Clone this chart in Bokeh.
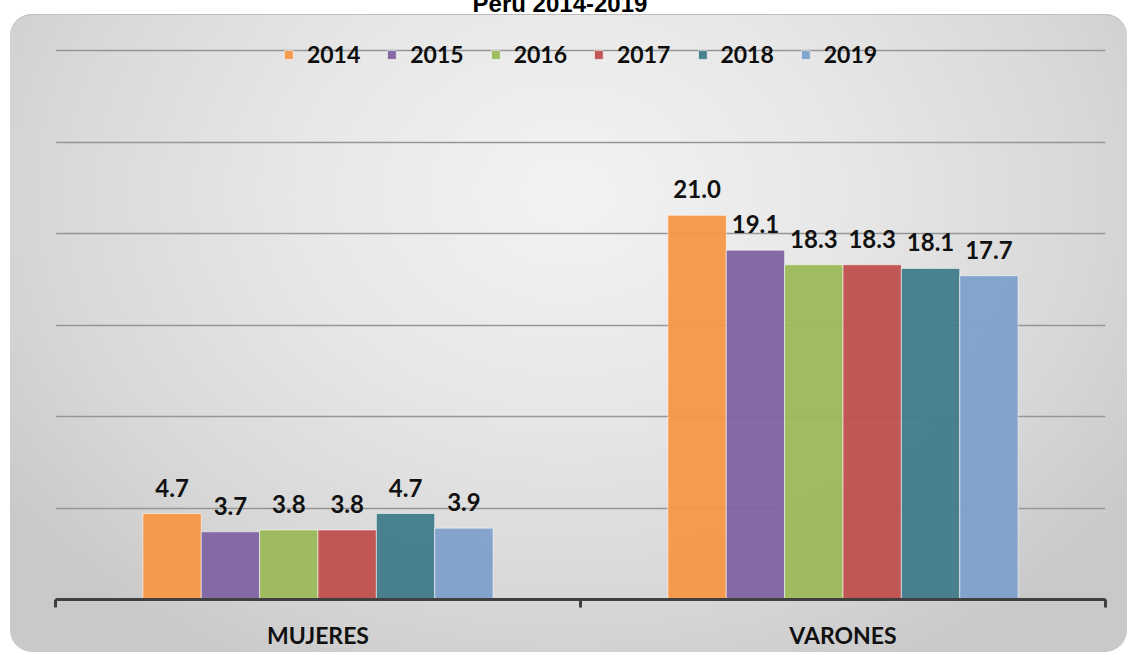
from bokeh.plotting import figure
from bokeh.models import (ColumnDataSource, FixedTicker, Legend, LegendItem,
                          Div, SingleIntervalTicker)
from bokeh.layouts import column
from bokeh.embed import file_html
from bokeh.resources import INLINE
from bokeh.core.properties import value

# ---- data ----
title = "Perú 2014-2019"
categories = ["MUJERES", "VARONES"]
years = ["2014", "2015", "2016", "2017", "2018", "2019"]
mujeres = [4.7, 3.7, 3.8, 3.8, 4.7, 3.9]
varones = [21.0, 19.1, 18.3, 18.3, 18.1, 17.7]
colors = ["#F79646", "#8064A2", "#9BBB59", "#C0504D", "#417B89", "#7FA0CB"]

FONT = "Lato"
n_years = len(years)
group_width = 0.667
bar_w = group_width / n_years
cat_centers = [i + 0.5 for i in range(len(categories))]

p = figure(width=1117, height=638,
           x_range=(0, len(categories)), y_range=(0, 30.56),
           output_backend="svg", toolbar_location=None,
           min_border_left=45, min_border_right=22,
           min_border_top=26, min_border_bottom=53)

p.background_fill_alpha = 0
p.border_fill_alpha = 0
p.outline_line_color = None
p.margin = (0, 0, 0, 10)
p.styles = {
    "background": "radial-gradient(ellipse 62% 85% at 50% 28%, #f3f3f3 0%, #e7e7e7 40%, #d8d8d8 75%, #c9c9c9 100%)",
    "border-radius": "22px",
    "box-shadow": "inset 0 1px 0 #bdbdbd",
}

items = []
for j, yr in enumerate(years):
    off = (j - (n_years - 1) / 2) * bar_w
    xs = [c + off for c in cat_centers]
    vals = [mujeres[j], varones[j]]
    src = ColumnDataSource(dict(x=xs, top=vals, label=[f"{v:.1f}" for v in vals]))
    r = p.vbar(x="x", top="top", width=bar_w, source=src,
               fill_color=colors[j], fill_alpha=0.95,
               line_color="white", line_alpha=0.55, line_width=1)
    items.append(LegendItem(label=yr, renderers=[r]))
    p.text(x="x", y="top", text="label", source=src,
           text_align="center", text_baseline="alphabetic", y_offset=-26,
           text_font=value(FONT), text_font_style="bold",
           text_font_size="24px", text_color="#111111")

legend = Legend(items=items, orientation="horizontal", location="top_center",
                glyph_width=11, glyph_height=11, label_standoff=13, spacing=26,
                padding=0, margin=0, background_fill_alpha=0, border_line_alpha=0,
                label_text_font=FONT, label_text_font_style="bold",
                label_text_font_size="23px", label_text_color="#0d0d0d")
p.add_layout(legend)

# grid
p.yaxis.visible = False
p.xgrid.visible = False
p.ygrid.ticker = SingleIntervalTicker(interval=5)
p.ygrid.grid_line_color = "#969696"
p.ygrid.grid_line_width = 1.5

# category axis
xa = p.xaxis[0]
xa.ticker = FixedTicker(ticks=cat_centers,
                        minor_ticks=list(range(len(categories) + 1)))
xa.major_label_overrides = {c: name for c, name in zip(cat_centers, categories)}
xa.major_tick_line_color = None
xa.major_tick_out = 0
xa.major_tick_in = 0
xa.minor_tick_line_color = "#404040"
xa.minor_tick_line_width = 3
xa.minor_tick_out = 8
xa.minor_tick_in = 0
xa.axis_line_color = "#404040"
xa.axis_line_width = 3
xa.major_label_text_font = FONT
xa.major_label_text_font_style = "bold"
xa.major_label_text_font_size = "23px"
xa.major_label_text_color = "#111111"
xa.major_label_standoff = 13

div = Div(text=('<div style="font-family: \'Liberation Sans\', Arial; font-weight: bold; '
                'font-size: 24px; line-height: 28px; text-align: center; width: 1120px; '
                'margin-top: -16px; color: #000;">' + title + '</div>'),
          width=1128, height=14, margin=(0, 0, 0, 0),
          styles={"overflow": "hidden"})

layout = column(div, p, spacing=0)
open("out.html", "w").write(file_html(layout, INLINE))
